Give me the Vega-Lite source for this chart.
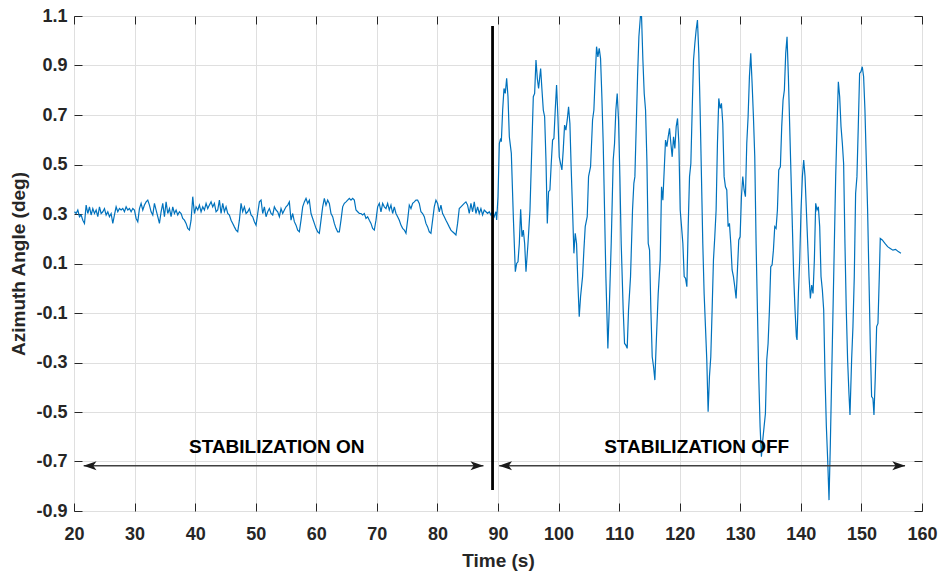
{
  "$schema": "https://vega.github.io/schema/vega-lite/v6.json",
  "width": 848,
  "height": 495,
  "autosize": {"type": "none"},
  "padding": {"left": 74, "top": 16, "right": 23, "bottom": 64},
  "background": "white",
  "config": {
    "font": "Liberation Sans",
    "view": {"stroke": "#262626", "strokeWidth": 1}
  },
  "datasets": {
    "series": [
      {"t":20.08,"v":0.309},{"t":20.355,"v":0.302},{"t":20.63,"v":0.316},{"t":20.905,"v":0.289},{"t":21.18,"v":0.296},{"t":21.455,"v":0.275},{"t":21.73,"v":0.262},{"t":22.005,"v":0.336},{"t":22.28,"v":0.302},{"t":22.555,"v":0.329},
      {"t":22.83,"v":0.296},{"t":23.105,"v":0.322},{"t":23.38,"v":0.302},{"t":23.655,"v":0.316},{"t":23.93,"v":0.289},{"t":24.205,"v":0.329},{"t":24.48,"v":0.302},{"t":24.755,"v":0.309},{"t":25.03,"v":0.322},{"t":25.305,"v":0.296},
      {"t":25.58,"v":0.309},{"t":25.855,"v":0.289},{"t":26.13,"v":0.302},{"t":26.405,"v":0.262},{"t":26.68,"v":0.296},{"t":26.955,"v":0.329},{"t":27.23,"v":0.309},{"t":27.505,"v":0.322},{"t":27.78,"v":0.316},{"t":28.055,"v":0.322},
      {"t":28.33,"v":0.309},{"t":28.605,"v":0.329},{"t":28.88,"v":0.316},{"t":29.155,"v":0.322},{"t":29.43,"v":0.309},{"t":29.705,"v":0.322},{"t":29.98,"v":0.316},{"t":30.255,"v":0.282},{"t":30.53,"v":0.269},{"t":30.805,"v":0.322},
      {"t":31.08,"v":0.343},{"t":31.355,"v":0.316},{"t":31.63,"v":0.336},{"t":31.905,"v":0.349},{"t":32.18,"v":0.356},{"t":32.455,"v":0.336},{"t":32.73,"v":0.309},{"t":33.005,"v":0.296},{"t":33.28,"v":0.343},{"t":33.555,"v":0.316},
      {"t":33.83,"v":0.289},{"t":34.105,"v":0.262},{"t":34.38,"v":0.309},{"t":34.655,"v":0.343},{"t":34.93,"v":0.289},{"t":35.205,"v":0.349},{"t":35.48,"v":0.302},{"t":35.755,"v":0.322},{"t":36.03,"v":0.289},{"t":36.305,"v":0.329},
      {"t":36.58,"v":0.302},{"t":36.855,"v":0.316},{"t":37.13,"v":0.296},{"t":37.405,"v":0.309},{"t":37.68,"v":0.302},{"t":37.955,"v":0.282},{"t":38.23,"v":0.275},{"t":38.505,"v":0.262},{"t":38.78,"v":0.242},{"t":39.055,"v":0.235},
      {"t":39.33,"v":0.275},{"t":39.605,"v":0.370},{"t":39.88,"v":0.302},{"t":40.155,"v":0.329},{"t":40.43,"v":0.316},{"t":40.705,"v":0.336},{"t":40.98,"v":0.309},{"t":41.255,"v":0.329},{"t":41.53,"v":0.316},{"t":41.805,"v":0.343},
      {"t":42.08,"v":0.322},{"t":42.355,"v":0.336},{"t":42.63,"v":0.349},{"t":42.905,"v":0.329},{"t":43.18,"v":0.343},{"t":43.455,"v":0.309},{"t":43.73,"v":0.316},{"t":44.005,"v":0.356},{"t":44.28,"v":0.302},{"t":44.555,"v":0.343},
      {"t":44.83,"v":0.309},{"t":45.105,"v":0.329},{"t":45.38,"v":0.302},{"t":45.655,"v":0.296},{"t":45.93,"v":0.275},{"t":46.205,"v":0.262},{"t":46.48,"v":0.248},{"t":46.755,"v":0.235},{"t":47.03,"v":0.228},{"t":47.305,"v":0.275},
      {"t":47.58,"v":0.343},{"t":47.855,"v":0.309},{"t":48.13,"v":0.329},{"t":48.405,"v":0.302},{"t":48.68,"v":0.309},{"t":48.955,"v":0.322},{"t":49.23,"v":0.296},{"t":49.505,"v":0.289},{"t":49.78,"v":0.269},{"t":50.055,"v":0.255},
      {"t":50.33,"v":0.302},{"t":50.605,"v":0.349},{"t":50.88,"v":0.356},{"t":51.155,"v":0.302},{"t":51.43,"v":0.329},{"t":51.705,"v":0.289},{"t":51.98,"v":0.309},{"t":52.255,"v":0.322},{"t":52.53,"v":0.302},{"t":52.805,"v":0.296},
      {"t":53.08,"v":0.329},{"t":53.355,"v":0.316},{"t":53.63,"v":0.309},{"t":53.905,"v":0.289},{"t":54.18,"v":0.322},{"t":54.455,"v":0.302},{"t":54.73,"v":0.316},{"t":55.005,"v":0.329},{"t":55.28,"v":0.336},{"t":55.555,"v":0.349},
      {"t":55.83,"v":0.275},{"t":56.105,"v":0.302},{"t":56.38,"v":0.269},{"t":56.655,"v":0.255},{"t":56.93,"v":0.235},{"t":57.205,"v":0.228},{"t":57.48,"v":0.275},{"t":57.755,"v":0.329},{"t":58.03,"v":0.349},{"t":58.305,"v":0.363},
      {"t":58.58,"v":0.343},{"t":58.855,"v":0.356},{"t":59.13,"v":0.302},{"t":59.405,"v":0.282},{"t":59.68,"v":0.262},{"t":59.955,"v":0.242},{"t":60.23,"v":0.228},{"t":60.505,"v":0.222},{"t":60.78,"v":0.275},{"t":61.055,"v":0.329},
      {"t":61.33,"v":0.363},{"t":61.605,"v":0.336},{"t":61.88,"v":0.356},{"t":62.155,"v":0.343},{"t":62.43,"v":0.302},{"t":62.705,"v":0.289},{"t":62.98,"v":0.262},{"t":63.255,"v":0.242},{"t":63.53,"v":0.228},{"t":63.805,"v":0.228},
      {"t":64.08,"v":0.275},{"t":64.355,"v":0.329},{"t":64.63,"v":0.343},{"t":64.905,"v":0.349},{"t":65.18,"v":0.356},{"t":65.455,"v":0.363},{"t":65.73,"v":0.356},{"t":66.005,"v":0.363},{"t":66.28,"v":0.356},{"t":66.555,"v":0.316},
      {"t":66.83,"v":0.309},{"t":67.105,"v":0.302},{"t":67.38,"v":0.302},{"t":67.655,"v":0.296},{"t":67.93,"v":0.302},{"t":68.205,"v":0.282},{"t":68.48,"v":0.289},{"t":68.755,"v":0.275},{"t":69.03,"v":0.262},{"t":69.305,"v":0.242},
      {"t":69.58,"v":0.235},{"t":69.855,"v":0.275},{"t":70.13,"v":0.329},{"t":70.405,"v":0.343},{"t":70.68,"v":0.309},{"t":70.955,"v":0.343},{"t":71.23,"v":0.329},{"t":71.505,"v":0.322},{"t":71.78,"v":0.343},{"t":72.055,"v":0.316},
      {"t":72.33,"v":0.336},{"t":72.605,"v":0.302},{"t":72.88,"v":0.329},{"t":73.155,"v":0.302},{"t":73.43,"v":0.289},{"t":73.705,"v":0.275},{"t":73.98,"v":0.255},{"t":74.255,"v":0.242},{"t":74.53,"v":0.235},{"t":74.805,"v":0.222},
      {"t":75.08,"v":0.275},{"t":75.355,"v":0.336},{"t":75.63,"v":0.322},{"t":75.905,"v":0.343},{"t":76.18,"v":0.349},{"t":76.455,"v":0.356},{"t":76.73,"v":0.356},{"t":77.005,"v":0.343},{"t":77.28,"v":0.309},{"t":77.555,"v":0.302},
      {"t":77.83,"v":0.289},{"t":78.105,"v":0.262},{"t":78.38,"v":0.248},{"t":78.655,"v":0.228},{"t":78.93,"v":0.222},{"t":79.205,"v":0.275},{"t":79.48,"v":0.329},{"t":79.755,"v":0.356},{"t":80.03,"v":0.343},{"t":80.305,"v":0.309},
      {"t":80.58,"v":0.336},{"t":80.855,"v":0.302},{"t":81.13,"v":0.289},{"t":81.405,"v":0.275},{"t":81.68,"v":0.262},{"t":81.955,"v":0.248},{"t":82.23,"v":0.235},{"t":82.505,"v":0.228},{"t":82.78,"v":0.222},{"t":83.055,"v":0.215},
      {"t":83.33,"v":0.262},{"t":83.605,"v":0.322},{"t":83.88,"v":0.329},{"t":84.155,"v":0.336},{"t":84.43,"v":0.343},{"t":84.705,"v":0.349},{"t":84.98,"v":0.336},{"t":85.255,"v":0.302},{"t":85.53,"v":0.343},{"t":85.805,"v":0.309},
      {"t":86.08,"v":0.349},{"t":86.355,"v":0.302},{"t":86.63,"v":0.329},{"t":86.905,"v":0.302},{"t":87.18,"v":0.322},{"t":87.455,"v":0.296},{"t":87.73,"v":0.316},{"t":88.005,"v":0.309},{"t":88.28,"v":0.302},{"t":88.555,"v":0.309},
      {"t":88.83,"v":0.296},{"t":89.105,"v":0.309},{"t":89.38,"v":0.289},{"t":89.655,"v":0.309},
      {"t":89.78,"v":0.276},{"t":90.0,"v":0.370},{"t":90.22,"v":0.585},{"t":90.44,"v":0.605},{"t":90.55,"v":0.592},{"t":90.77,"v":0.720},{"t":90.99,"v":0.807},{"t":91.2,"v":0.787},{"t":91.43,"v":0.848},{"t":91.65,"v":0.774},
      {"t":91.87,"v":0.612},{"t":92.2,"v":0.545},{"t":92.53,"v":0.289},{"t":92.86,"v":0.067},{"t":93.08,"v":0.100},{"t":93.3,"v":0.107},{"t":93.52,"v":0.181},{"t":93.74,"v":0.319},{"t":93.96,"v":0.208},{"t":94.18,"v":0.235},
      {"t":94.4,"v":0.181},{"t":94.62,"v":0.067},{"t":94.95,"v":0.181},{"t":95.28,"v":0.316},{"t":95.6,"v":0.585},{"t":95.83,"v":0.774},{"t":96.05,"v":0.787},{"t":96.27,"v":0.922},{"t":96.49,"v":0.848},{"t":96.7,"v":0.807},
      {"t":97.04,"v":0.888},{"t":97.26,"v":0.801},{"t":97.48,"v":0.720},{"t":97.7,"v":0.693},{"t":97.92,"v":0.518},{"t":98.14,"v":0.262},{"t":98.35,"v":0.390},{"t":98.57,"v":0.397},{"t":98.79,"v":0.504},{"t":99.01,"v":0.599},
      {"t":99.23,"v":0.605},{"t":99.45,"v":0.720},{"t":99.67,"v":0.821},{"t":99.89,"v":0.693},{"t":100.11,"v":0.531},{"t":100.33,"v":0.504},{"t":100.55,"v":0.478},{"t":100.77,"v":0.558},{"t":100.99,"v":0.659},{"t":101.21,"v":0.639},
      {"t":101.43,"v":0.680},{"t":101.65,"v":0.733},{"t":101.87,"v":0.666},{"t":102.09,"v":0.478},{"t":102.31,"v":0.316},{"t":102.53,"v":0.141},{"t":102.75,"v":0.222},{"t":102.97,"v":0.181},{"t":103.19,"v":0.020},{"t":103.41,"v":-0.115},
      {"t":103.63,"v":-0.034},{"t":103.96,"v":0.047},{"t":104.18,"v":0.154},{"t":104.4,"v":0.249},{"t":104.73,"v":0.289},{"t":104.95,"v":0.451},{"t":105.28,"v":0.491},{"t":105.61,"v":0.680},{"t":105.83,"v":0.720},{"t":106.05,"v":0.855},
      {"t":106.27,"v":0.976},{"t":106.49,"v":0.935},{"t":106.71,"v":0.969},{"t":106.93,"v":0.929},{"t":107.15,"v":0.774},{"t":107.37,"v":0.585},{"t":107.59,"v":0.316},{"t":107.81,"v":0.047},{"t":108.14,"v":-0.243},{"t":108.36,"v":-0.088},
      {"t":108.69,"v":0.181},{"t":109.02,"v":0.518},{"t":109.24,"v":0.585},{"t":109.46,"v":0.720},{"t":109.68,"v":0.787},{"t":109.9,"v":0.680},{"t":110.12,"v":0.451},{"t":110.34,"v":0.181},{"t":110.67,"v":-0.088},{"t":110.89,"v":-0.223},
      {"t":111.11,"v":-0.230},{"t":111.33,"v":-0.243},{"t":111.55,"v":-0.088},{"t":111.88,"v":0.047},{"t":112.21,"v":0.316},{"t":112.43,"v":0.424},
      {"t":112.6,"v":0.451},{"t":112.82,"v":0.653},{"t":113.04,"v":0.855},{"t":113.26,"v":1.016},{"t":113.53,"v":1.104},{"t":113.7,"v":1.097},{"t":113.92,"v":0.922},{"t":114.14,"v":0.787},{"t":114.36,"v":0.720},{"t":114.58,"v":0.518},
      {"t":114.8,"v":0.181},{"t":115.02,"v":0.154},{"t":115.24,"v":-0.088},{"t":115.46,"v":-0.277},{"t":115.68,"v":-0.317},{"t":115.9,"v":-0.371},{"t":116.12,"v":-0.223},{"t":116.45,"v":-0.021},{"t":116.78,"v":0.114},{"t":117.0,"v":0.410},
      {"t":117.22,"v":0.356},{"t":117.44,"v":0.478},{"t":117.66,"v":0.599},{"t":117.88,"v":0.572},{"t":118.1,"v":0.612},{"t":118.32,"v":0.646},{"t":118.54,"v":0.585},{"t":118.76,"v":0.531},{"t":118.98,"v":0.612},{"t":119.2,"v":0.565},
      {"t":119.42,"v":0.653},{"t":119.64,"v":0.686},{"t":119.86,"v":0.585},{"t":120.08,"v":0.316},{"t":120.3,"v":0.249},{"t":120.52,"v":0.181},{"t":120.74,"v":0.047},{"t":120.96,"v":0.040},{"t":121.18,"v":0.006},{"t":121.4,"v":0.249},
      {"t":121.62,"v":0.451},{"t":121.84,"v":0.504},{"t":122.06,"v":0.720},{"t":122.28,"v":0.922},{"t":122.5,"v":0.989},{"t":122.71,"v":1.043},{"t":122.93,"v":1.084},{"t":123.15,"v":0.949},{"t":123.37,"v":0.720},{"t":123.59,"v":0.451},
      {"t":123.81,"v":0.181},{"t":124.03,"v":-0.021},{"t":124.25,"v":-0.155},{"t":124.47,"v":-0.290},{"t":124.69,"v":-0.499},{"t":124.91,"v":-0.357},{"t":125.13,"v":-0.277},{"t":125.35,"v":-0.088},{"t":125.57,"v":0.114},{"t":125.79,"v":0.208},
      {"t":126.01,"v":0.316},{"t":126.23,"v":0.585},{"t":126.45,"v":0.767},{"t":126.67,"v":0.727},{"t":126.89,"v":0.747},{"t":127.11,"v":0.666},{"t":127.33,"v":0.451},{"t":127.55,"v":0.410},{"t":127.77,"v":0.397},{"t":127.99,"v":0.249},
      {"t":128.21,"v":0.262},{"t":128.43,"v":0.181},{"t":128.65,"v":0.074},{"t":128.87,"v":0.047},{"t":129.09,"v":0.006},{"t":129.31,"v":-0.041},{"t":129.53,"v":0.074},{"t":129.75,"v":0.195},{"t":129.97,"v":0.208},{"t":130.19,"v":0.370},
      {"t":130.41,"v":0.451},{"t":130.63,"v":0.397},{"t":130.85,"v":0.370},{"t":131.07,"v":0.585},{"t":131.29,"v":0.693},{"t":131.51,"v":0.855},{"t":131.73,"v":0.949},{"t":131.95,"v":0.828},{"t":132.17,"v":0.693},{"t":132.39,"v":0.531},
      {"t":132.61,"v":0.181},{"t":132.83,"v":-0.088},{"t":133.05,"v":-0.357},{"t":133.27,"v":-0.559},{"t":133.49,"v":-0.681},{"t":133.71,"v":-0.613},{"t":133.93,"v":-0.559},{"t":134.15,"v":-0.506},{"t":134.37,"v":-0.290},{"t":134.59,"v":-0.223},
      {"t":134.81,"v":-0.088},{"t":135.03,"v":0.087},{"t":135.25,"v":0.094},{"t":135.47,"v":0.154},{"t":135.69,"v":0.249},{"t":135.91,"v":0.242},{"t":136.13,"v":0.316},{"t":136.35,"v":0.478},
      {"t":136.62,"v":0.491},{"t":136.84,"v":0.653},{"t":137.06,"v":0.760},{"t":137.28,"v":0.801},{"t":137.5,"v":0.949},{"t":137.72,"v":1.016},{"t":137.94,"v":0.855},{"t":138.16,"v":0.653},{"t":138.38,"v":0.451},{"t":138.6,"v":0.249},
      {"t":138.82,"v":0.047},{"t":139.04,"v":-0.088},{"t":139.26,"v":-0.196},{"t":139.37,"v":-0.209},{"t":139.59,"v":-0.021},{"t":139.81,"v":0.114},{"t":140.03,"v":0.316},{"t":140.25,"v":0.451},{"t":140.47,"v":0.518},{"t":140.69,"v":0.451},
      {"t":140.91,"v":0.316},{"t":141.13,"v":0.181},{"t":141.35,"v":0.047},{"t":141.57,"v":-0.041},{"t":141.79,"v":0.013},{"t":142.01,"v":-0.021},{"t":142.23,"v":0.114},{"t":142.45,"v":0.343},{"t":142.67,"v":0.316},{"t":142.89,"v":0.329},
      {"t":143.11,"v":0.249},{"t":143.33,"v":0.047},{"t":143.55,"v":-0.007},{"t":143.77,"v":-0.088},{"t":143.99,"v":-0.357},{"t":144.21,"v":-0.559},{"t":144.43,"v":-0.694},{"t":144.65,"v":-0.856},{"t":144.87,"v":-0.627},{"t":145.09,"v":-0.357},
      {"t":145.31,"v":-0.088},{"t":145.53,"v":0.181},{"t":145.75,"v":0.451},{"t":145.97,"v":0.653},{"t":146.19,"v":0.834},{"t":146.41,"v":0.774},{"t":146.63,"v":0.653},{"t":146.85,"v":0.585},{"t":147.06,"v":0.504},{"t":147.28,"v":0.181},
      {"t":147.5,"v":-0.088},{"t":147.72,"v":-0.290},{"t":147.94,"v":-0.425},{"t":148.11,"v":-0.512},{"t":148.38,"v":-0.290},{"t":148.6,"v":-0.155},{"t":148.82,"v":0.047},{"t":149.04,"v":0.383},{"t":149.26,"v":0.451},{"t":149.48,"v":0.653},
      {"t":149.7,"v":0.868},{"t":149.92,"v":0.875},{"t":150.14,"v":0.895},{"t":150.36,"v":0.855},{"t":150.58,"v":0.720},{"t":150.8,"v":0.518},{"t":151.02,"v":0.316},{"t":151.24,"v":0.047},{"t":151.46,"v":-0.223},{"t":151.68,"v":-0.438},
      {"t":151.9,"v":-0.445},{"t":152.07,"v":-0.512},{"t":152.29,"v":-0.357},{"t":152.51,"v":-0.155},{"t":152.73,"v":-0.142},{"t":152.95,"v":0.047},{"t":153.11,"v":0.201},{"t":153.44,"v":0.195},{"t":153.88,"v":0.181},{"t":154.32,"v":0.168},
      {"t":154.76,"v":0.161},{"t":155.2,"v":0.154},{"t":155.64,"v":0.157},{"t":156.08,"v":0.148},{"t":156.52,"v":0.141}
    ],
    "divider": [{"t": 89.1, "y1": -0.815, "y2": 1.06}],
    "shafts": [{"a": 21.6, "b": 87.6, "y": -0.717}, {"a": 90.2, "b": 157.2, "y": -0.717}],
    "headsLeft": [{"t": 21.57, "y": -0.717}, {"t": 90.17, "y": -0.717}],
    "headsRight": [{"t": 87.6, "y": -0.717}, {"t": 157.24, "y": -0.717}],
    "labels": [{"t": 53.48, "y": -0.64, "txt": "STABILIZATION ON"}, {"t": 122.8, "y": -0.64, "txt": "STABILIZATION OFF"}],
    "frame": [{"t": 20, "y": -0.9}, {"t": 160, "y": 1.1}]
  },
  "resolve": {"axis": {"x": "independent", "y": "independent"}},
  "layer": [
    {
      "data": {"name": "series"},
      "mark": {"type": "line", "color": "#0072BD", "strokeWidth": 1.2, "clip": true},
      "encoding": {
        "x": {
          "field": "t", "type": "quantitative",
          "scale": {"domain": [20, 160], "nice": false, "zero": false},
          "axis": {
            "orient": "bottom",
            "values": [20, 30, 40, 50, 60, 70, 80, 90, 100, 110, 120, 130, 140, 150, 160],
            "format": "d",
            "labelFont": "Liberation Sans", "labelFontSize": 18, "labelFontWeight": "bold", "labelColor": "#262626",
            "labelFlush": false, "labelPadding": 22,
            "tickSize": -8, "tickColor": "#262626", "tickWidth": 1,
            "domain": false,
            "grid": true, "gridColor": "#dfdfdf", "gridWidth": 1,
            "title": "Time (s)", "titleFont": "Liberation Sans", "titleFontSize": 19, "titleFontWeight": "bold", "titleColor": "#262626", "titlePadding": 8
          }
        },
        "y": {
          "field": "v", "type": "quantitative",
          "scale": {"domain": [-0.9, 1.1], "nice": false, "zero": false},
          "axis": {
            "orient": "left",
            "values": [-0.9, -0.7, -0.5, -0.3, -0.1, 0.1, 0.3, 0.5, 0.7, 0.9, 1.1],
            "labelExpr": "datum.value < 0 ? '-' + format(-datum.value, '.1f') : format(datum.value, '.1f')",
            "labelFont": "Liberation Sans", "labelFontSize": 18, "labelFontWeight": "bold", "labelColor": "#262626",
            "labelPadding": 15,
            "tickSize": -8, "tickColor": "#262626", "tickWidth": 1,
            "domain": false,
            "grid": true, "gridColor": "#dfdfdf", "gridWidth": 1,
            "title": "Azimuth Angle (deg)", "titleFont": "Liberation Sans", "titleFontSize": 19, "titleFontWeight": "bold", "titleColor": "#262626", "titlePadding": 7
          }
        }
      }
    },
    {
      "data": {"name": "divider"},
      "mark": {"type": "rule", "color": "#000000", "strokeWidth": 2.8},
      "encoding": {
        "x": {"field": "t", "type": "quantitative", "scale": {"domain": [20, 160], "nice": false, "zero": false}, "axis": null},
        "y": {"field": "y1", "type": "quantitative", "scale": {"domain": [-0.9, 1.1], "nice": false, "zero": false}, "axis": null},
        "y2": {"field": "y2"}
      }
    },
    {
      "data": {"name": "shafts"},
      "mark": {"type": "rule", "color": "#404040", "strokeWidth": 1.4},
      "encoding": {
        "x": {"field": "a", "type": "quantitative", "scale": {"domain": [20, 160], "nice": false, "zero": false}, "axis": null},
        "x2": {"field": "b"},
        "y": {"field": "y", "type": "quantitative", "scale": {"domain": [-0.9, 1.1], "nice": false, "zero": false}, "axis": null}
      }
    },
    {
      "data": {"name": "headsLeft"},
      "mark": {"type": "point", "shape": "M0,0L2,-0.7L1.5,0L2,0.7Z", "filled": true, "size": 169, "color": "#1a1a1a", "opacity": 1},
      "encoding": {
        "x": {"field": "t", "type": "quantitative", "scale": {"domain": [20, 160], "nice": false, "zero": false}, "axis": null},
        "y": {"field": "y", "type": "quantitative", "scale": {"domain": [-0.9, 1.1], "nice": false, "zero": false}, "axis": null}
      }
    },
    {
      "data": {"name": "headsRight"},
      "mark": {"type": "point", "shape": "M0,0L-2,-0.7L-1.5,0L-2,0.7Z", "filled": true, "size": 169, "color": "#1a1a1a", "opacity": 1},
      "encoding": {
        "x": {"field": "t", "type": "quantitative", "scale": {"domain": [20, 160], "nice": false, "zero": false}, "axis": null},
        "y": {"field": "y", "type": "quantitative", "scale": {"domain": [-0.9, 1.1], "nice": false, "zero": false}, "axis": null}
      }
    },
    {
      "data": {"name": "labels"},
      "mark": {"type": "text", "font": "Liberation Sans", "fontSize": 19, "fontWeight": "bold", "color": "#000000", "align": "center", "baseline": "middle"},
      "encoding": {
        "x": {"field": "t", "type": "quantitative", "scale": {"domain": [20, 160], "nice": false, "zero": false}, "axis": null},
        "y": {"field": "y", "type": "quantitative", "scale": {"domain": [-0.9, 1.1], "nice": false, "zero": false}, "axis": null},
        "text": {"field": "txt"}
      }
    },
    {
      "data": {"name": "frame"},
      "mark": {"type": "point", "opacity": 0},
      "encoding": {
        "x": {
          "field": "t", "type": "quantitative",
          "scale": {"domain": [20, 160], "nice": false, "zero": false},
          "axis": {"orient": "top", "values": [20, 30, 40, 50, 60, 70, 80, 90, 100, 110, 120, 130, 140, 150, 160], "labels": false, "title": null, "grid": false, "domain": false, "tickSize": -8, "tickColor": "#262626"}
        },
        "y": {
          "field": "y", "type": "quantitative",
          "scale": {"domain": [-0.9, 1.1], "nice": false, "zero": false},
          "axis": {"orient": "right", "values": [-0.9, -0.7, -0.5, -0.3, -0.1, 0.1, 0.3, 0.5, 0.7, 0.9, 1.1], "labels": false, "title": null, "grid": false, "domain": false, "tickSize": -8, "tickColor": "#262626"}
        }
      }
    }
  ]
}
